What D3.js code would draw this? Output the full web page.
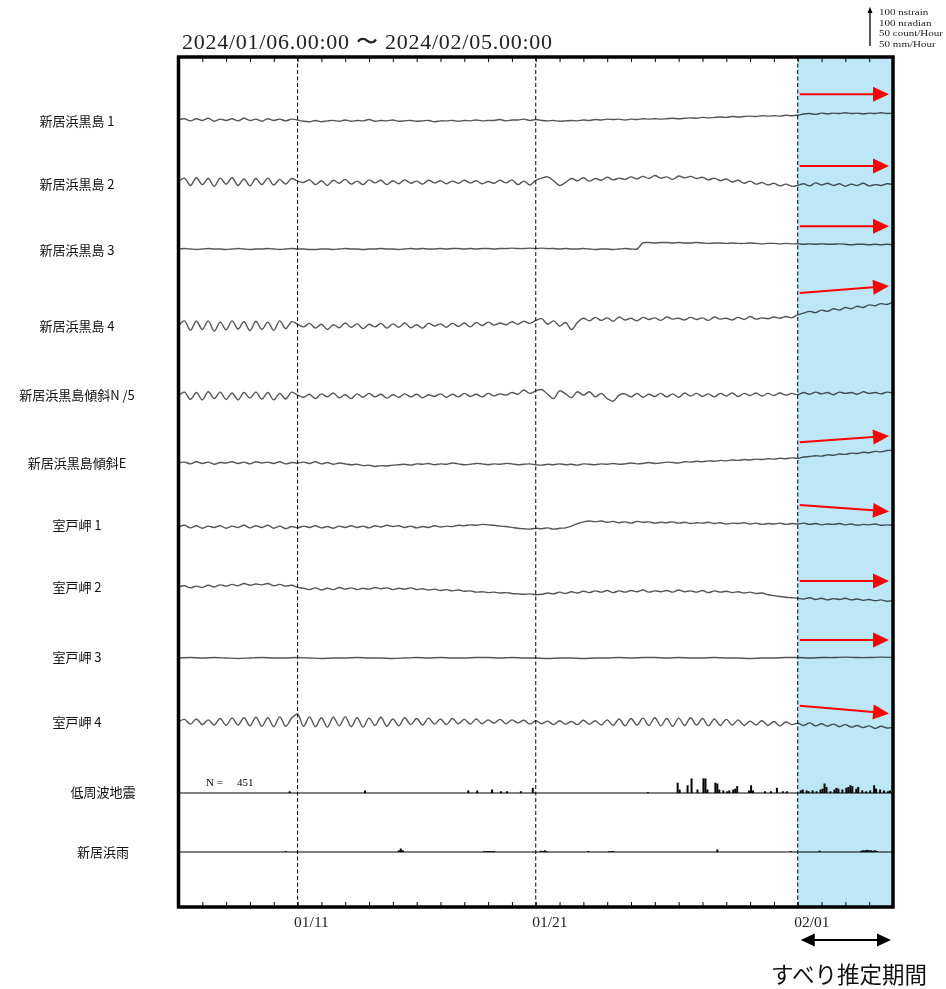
<!DOCTYPE html>
<html>
<head>
<meta charset="utf-8">
<script src="https://cdn.jsdelivr.net/npm/d3@7"></script>
<style>
  html, body { margin: 0; padding: 0; background: #fff; }
  svg { display: block; }
</style>
</head>
<body>
<svg id="chart" width="946" height="989"></svg>
<script>
// ---------------- DATA ----------------
const periodStart = new Date(2024, 0, 6);
const periodEnd = new Date(2024, 1, 5);
const slipStart = new Date(2024, 1, 1);
const markerDates = [new Date(2024, 0, 11), new Date(2024, 0, 21), new Date(2024, 1, 1)];
const tickLabels = ["01/11", "01/21", "02/01"];
const titleText = "2024/01/06.00:00 \u301C 2024/02/05.00:00";
const legendLines = ["100 nstrain", "100 nradian", "50 count/Hour", "50 mm/Hour"];

const traceNames = ["新居浜黒島 1", "新居浜黒島 2", "新居浜黒島 3", "新居浜黒島 4",
  "新居浜黒島傾斜N /5", "新居浜黒島傾斜E", "室戸岬 1", "室戸岬 2", "室戸岬 3", "室戸岬 4"];
const histNames = ["低周波地震", "新居浜雨"];

// trace values (nstrain / nradian, relative), 6-hour steps (室戸岬3: 12-hour steps)
const kuroshima1 = [0,3,-2,3,-1,4,-3,2,-1,3,-2,4,-1,2,-3,3,-1,2,-2,2,0,
  -3,-4,-1,-4,-2,-1,-3,0,-3,-1,-2,1,-3,-1,-2,0,-3,-2,-1,-3,-2,-1,-4,-2,-2,-1,-3,-1,-2,0,-2,-1,-1,1,-2,0,0,2,-1,1,
  -1,-2,-1,-3,-2,-1,-2,0,-1,1,0,2,1,2,0,2,1,3,2,3,2,3,4,3,4,5,4,6,5,6,7,6,8,7,8,9,8,10,9,10,9,11,10,11,
  14,15,13,16,14,16,15,17,15,16,14,16,15,17,15,16];
const kuroshima2 = [0,9,-8,10,-6,8,-10,9,-5,10,-8,7,-9,8,-6,9,-7,6,-5,8,2,
  -1,5,-6,3,-8,4,-3,6,-5,2,-6,5,-2,4,-6,3,-4,5,-3,2,-5,4,-2,3,-4,2,-3,4,-2,3,-4,1,-3,4,-2,5,-6,2,-7,4,
  9,12,3,-8,-1,8,3,10,2,8,4,11,5,9,6,12,7,
  13,8,15,9,12,6,14,10,13,8,11,5,9,3,7,0,4,-3,2,-5,-1,-7,-3,-9,-5,-10,-8,
  -4,-9,-2,-7,-3,-8,-4,-10,-5,-8,-3,-9,-6,-8,-4,-6];
const kuroshima3 = [0,1,0,-1,0,1,0,0,-1,0,1,0,-1,0,0,1,0,-1,0,1,0,0,-1,-1,0,0,-1,0,1,0,0,-1,0,0,1,0,0,-1,0,1,
  0,1,0,0,1,0,1,1,0,1,0,1,1,0,1,1,2,1,1,2,1,2,1,1,0,1,0,0,1,0,-1,0,0,-1,0,1,0,0,
  14,15,14,15,15,14,15,14,14,15,14,13,14,14,13,14,13,13,14,13,12,13,13,12,13,12,12,11,12,11,12,11,11,12,11,10,11,11,10,11,10,11,10];
const kuroshima4 = [0,12,-10,11,-8,12,-12,9,-9,12,-7,10,-11,11,-8,9,-10,12,-6,10,4,
  -2,6,-5,4,-8,3,-4,7,-3,5,-6,4,-2,6,-5,5,-3,7,-4,3,-5,6,0,5,-3,6,-1,7,-2,8,1,9,2,7,3,10,4,11,6,13,
  17,4,12,0,8,-8,8,
  18,12,20,13,19,11,21,14,18,12,20,15,19,13,21,16,18,14,20,15,19,13,21,16,18,14,20,15,22,16,19,17,21,18,22,19,26,
  30,34,31,37,34,40,37,43,40,46,43,49,47,52,50,56];
const tiltN = [0,9,-8,8,-9,10,-6,9,-8,7,-9,8,-5,9,-7,8,-9,6,-7,9,2,
  -3,4,-6,5,-2,7,-4,3,-6,5,-3,6,-2,4,-5,3,-3,5,-2,4,-4,3,-1,5,-3,4,-2,6,-1,4,-2,6,0,5,2,8,4,14,6,12,
  15,4,-6,12,5,-4,10,2,10,-2,6,-6,-12,2,
  5,-2,6,-3,4,-1,6,-2,5,-3,7,0,6,-1,5,-2,6,0,7,-1,6,1,7,0,6,1,7,2,6,3,
  8,4,9,5,8,3,9,6,8,4,10,6,8,5,9,6];
const tiltE = [0,2,-2,3,-1,2,-3,1,0,3,-1,2,-2,3,0,2,-1,3,-2,1,0,
  2,-1,3,-2,1,-3,0,-2,-4,-3,-6,-5,-8,-6,-7,-5,-4,-3,-5,-2,-3,-1,-4,-2,-3,0,-2,-4,-3,-1,-2,-4,-2,-3,-1,-2,-4,-3,-2,-4,
  -5,-3,-4,-2,-4,-3,-5,-2,-3,-4,-2,-3,-1,-3,-2,0,-2,-1,1,-1,0,2,1,0,3,2,4,3,5,4,6,5,7,6,8,7,9,8,10,9,11,10,12,11,
  14,15,17,16,19,18,21,20,23,22,25,24,27,26,29,30];
const muroto1 = [0,4,-2,3,-3,2,-1,3,-3,2,-1,4,-2,3,-1,4,-3,2,-4,1,-2,
  2,-1,3,-2,1,-3,2,-1,3,-1,2,-2,3,0,4,1,3,-1,2,-2,1,-1,3,0,2,1,4,3,5,4,6,5,4,2,1,-1,-3,-4,-5,-3,
  -4,-2,-5,-3,-2,2,8,12,14,
  12,14,11,13,10,12,9,13,11,12,9,11,10,12,9,11,8,10,9,11,8,10,7,9,8,10,7,9,6,8,7,9,6,8,7,
  9,6,8,5,7,6,8,5,7,4,6,5,7,4,5,4];
const muroto2 = [0,3,-2,2,-1,4,0,5,2,6,3,8,4,7,5,8,3,6,2,4,-1,
  -3,-6,-2,-7,-3,-6,-1,-5,-2,-6,-3,-5,-1,-4,-2,-6,-3,-5,-2,-6,-4,-7,-5,-8,-6,-9,-7,-10,-9,-12,-11,-13,-12,-14,-13,-15,-16,-17,-16,-18,
  -17,-14,-16,-12,-15,-11,-14,-10,-13,-9,-12,-8,-13,-9,-12,-8,-11,-7,-12,-9,-11,-8,-12,-7,-11,-9,-12,-8,-13,-9,-12,-10,-13,-11,-14,-12,-15,-14,
  -18,-20,-22,-24,-25,-26,
  -28,-25,-29,-26,-30,-27,-29,-26,-30,-28,-31,-29,-32,-30,-33,-31];
const muroto3 = [0,1,0,1,0,-1,0,1,0,0,1,0,-1,0,0,1,0,0,-1,0,1,0,1,0,0,1,1,0,1,0,0,-1,0,0,-1,0,0,1,0,1,1,0,1,0,0,1,0,0,-1,0,0,1,1,0,1,1,2,1,1,2,1];
const muroto4 = [0,6,-5,7,-6,5,-7,8,-8,9,-7,10,-9,11,-10,10,-11,12,-10,9,18,
  -10,12,-11,10,-12,11,-9,12,-11,10,-12,9,-8,11,-10,7,-9,10,-6,8,-7,9,-5,7,-6,8,-4,6,-5,7,-4,5,-3,6,-4,5,-2,4,-5,3,
  -4,2,-6,3,-5,1,-6,4,-5,3,-7,5,
  -8,7,-9,8,-7,9,-8,10,-9,8,-10,9,-8,10,-7,8,-9,7,-8,6,-7,5,-8,
  2,-7,3,-8,1,-9,0,-6,-3,
  -8,-2,-9,-4,-10,-5,-11,-6,-12,-8,-13,-9,-15,-10,-14,-12];
const traceSeries = [kuroshima1, kuroshima2, kuroshima3, kuroshima4, tiltN, tiltE, muroto1, muroto2, muroto3, muroto4];

// slip-direction arrows: [trace index, start value, end value]
const slipArrows = [[0, 60, 60], [1, 37, 37], [2, 53, 53], [3, 77, 93], [5, 48, 63],
  [6, 51, 36], [7, 14, 14], [8, 42, 42], [9, 38, 20]];

// low-frequency earthquakes: hours from start (2-hour bins), counts per hour
const eqTotal = 451;
const eqHour = [111,187,291,300,315,324,330,344,356,472,502,504,512,516,522,528,530,532,540,542,544,
  548,552,554,558,560,562,574,576,578,590,596,602,608,612,
  626,628,632,634,638,642,646,648,650,652,656,660,662,664,668,672,674,676,678,682,684,688,692,696,700,702,706,710,714,716];
const eqCount = [2,3,3,3,4,2,2,2,6,1,12,4,9,17,4,17,17,4,12,11,4,
  3,2,3,4,5,8,3,9,3,2,2,6,2,2,
  3,4,3,2,3,2,4,5,11,7,2,4,6,5,4,6,7,9,8,5,7,3,2,3,9,5,4,3,2,3];
// rainfall (Niihama): hours from start, mm per hour
const rainHour = [107,221,223,225,307,309,311,313,315,317,364,366,368,370,412,433,435,437,542,616,645,
  687,689,691,693,695,697,699,701,703];
const rainMM = [1,2,4,2,1,1,1,1,1,1,1.5,1,2,1,1,1,1,1,3,1,1.5,
  1.5,2,2,2.5,2,2,1.5,2,1];

// ---------------- LAYOUT ----------------
const plot = { left: 178.5, right: 893, top: 57, bottom: 907 };
const traceBaseY = [120, 182, 249, 326, 396, 463, 527, 587, 658, 722];
const traceLabelY = [121, 184, 250, 326, 395, 463, 525, 587, 657, 722];
const histBaseY = [793, 852];
const histLabelY = [792, 852];
const pxPer100 = 43;

// ---------------- DRAW ----------------
const svg = d3.select("#chart");
const x = d3.scaleTime().domain([periodStart, periodEnd]).range([plot.left, plot.right]);
const span = periodEnd - periodStart;

const gMain = svg.append("g");

// traces
const line = d3.line().curve(d3.curveCatmullRom.alpha(0.5));
traceSeries.forEach((s, r) => {
  const y = d3.scaleLinear().domain([0, 100]).range([traceBaseY[r], traceBaseY[r] - pxPer100]);
  const pts = s.map((v, i) => [x(new Date(+periodStart + i * span / (s.length - 1))), y(v)]);
  gMain.append("path").attr("d", line(pts))
    .attr("fill", "none").attr("stroke", "#555").attr("stroke-width", 1.4)
    .attr("stroke-linejoin", "round");
});

// histograms
const hourMs = 3600e3;
function drawHist(hours, vals, baseY) {
  const y = d3.scaleLinear().domain([0, 50]).range([baseY, baseY - pxPer100]);
  gMain.append("line").attr("x1", plot.left).attr("x2", plot.right)
    .attr("y1", baseY).attr("y2", baseY).attr("stroke", "#000").attr("stroke-width", 1.2);
  gMain.selectAll(null).data(hours.map((h, i) => [h, vals[i]])).enter().append("rect")
    .attr("x", d => x(new Date(+periodStart + d[0] * hourMs)))
    .attr("width", d => x(new Date(+periodStart + (d[0] + 2) * hourMs)) - x(new Date(+periodStart + d[0] * hourMs)))
    .attr("y", d => y(d[1]))
    .attr("height", d => baseY - y(d[1]))
    .attr("fill", "#000");
}
drawHist(eqHour, eqCount, histBaseY[0]);
drawHist(rainHour, rainMM, histBaseY[1]);

// dashed markers
markerDates.forEach(d => {
  gMain.append("line").attr("x1", x(d)).attr("x2", x(d))
    .attr("y1", plot.top).attr("y2", plot.bottom)
    .attr("stroke", "#000").attr("stroke-width", 1).attr("stroke-dasharray", "4,2.5");
});

// highlight (slip estimation period)
svg.append("rect").attr("x", x(slipStart)).attr("y", plot.top)
  .attr("width", plot.right - x(slipStart)).attr("height", plot.bottom - plot.top)
  .attr("fill", "#bde6f7").style("mix-blend-mode", "multiply");

// ticks
const tickAxisB = d3.axisBottom(x).ticks(d3.timeDay.every(1)).tickSize(-5).tickFormat("");
const gB = svg.append("g").attr("transform", `translate(0,${plot.bottom})`).call(tickAxisB);
gB.select(".domain").remove();
gB.selectAll("line").attr("stroke", "#000");
const tickAxisT = d3.axisTop(x).ticks(d3.timeDay.every(1)).tickSize(-5).tickFormat("");
const gT = svg.append("g").attr("transform", `translate(0,${plot.top})`).call(tickAxisT);
gT.select(".domain").remove();
gT.selectAll("line").attr("stroke", "#000");

// tick labels
const labAxis = d3.axisBottom(x).tickValues(markerDates).tickSize(0)
  .tickFormat((d, i) => tickLabels[i]);
const gL = svg.append("g").attr("transform", `translate(0,${plot.bottom})`).call(labAxis);
gL.select(".domain").remove();
gL.selectAll("text").attr("text-anchor", "start").attr("x", -4).attr("y", 9).attr("dy", "0.71em")
  .attr("font-family", "'Liberation Serif', 'Times New Roman', serif").attr("font-size", 15.5).attr("fill", "#222");

// frame
svg.append("rect").attr("x", plot.left).attr("y", plot.top)
  .attr("width", plot.right - plot.left).attr("height", plot.bottom - plot.top)
  .attr("fill", "none").attr("stroke", "#000").attr("stroke-width", 3.5);

// slip arrows
function arrow(g, x1, y1, x2, y2, color, head, halfW, sw) {
  const dx = x2 - x1, dy = y2 - y1, len = Math.hypot(dx, dy);
  const ux = dx / len, uy = dy / len;
  const bx = x2 - ux * head, by = y2 - uy * head;
  g.append("line").attr("x1", x1).attr("y1", y1).attr("x2", bx).attr("y2", by)
    .attr("stroke", color).attr("stroke-width", sw);
  g.append("path").attr("d", `M${x2},${y2}L${bx - uy * halfW},${by + ux * halfW}L${bx + uy * halfW},${by - ux * halfW}Z`)
    .attr("fill", color);
}
const gArr = svg.append("g");
const arrowEnd = new Date(+periodEnd - 4 * 3600e3);
slipArrows.forEach(([r, v0, v1]) => {
  const y = d3.scaleLinear().domain([0, 100]).range([traceBaseY[r], traceBaseY[r] - pxPer100]);
  arrow(gArr, x(slipStart) + 2, y(v0), x(arrowEnd), y(v1), "#ff0000", 16, 7.5, 2);
});

// title
svg.append("text").attr("x", 182).attr("y", 49).text(titleText)
  .attr("font-family", "'Liberation Serif', 'Times New Roman', serif").attr("font-size", 22)
  .attr("textLength", 370).attr("lengthAdjust", "spacing").attr("fill", "#222");

// labels
const labelFont = "'Noto Sans CJK JP', 'Noto Sans', sans-serif";
traceNames.forEach((n, i) => {
  svg.append("text").attr("x", 77).attr("y", traceLabelY[i]).attr("dy", "0.35em")
    .attr("text-anchor", "middle").attr("font-family", labelFont).attr("font-size", 13)
    .attr("fill", "#111").text(n);
});
histNames.forEach((n, i) => {
  svg.append("text").attr("x", 103).attr("y", histLabelY[i]).attr("dy", "0.35em")
    .attr("text-anchor", "middle").attr("font-family", labelFont).attr("font-size", 13)
    .attr("fill", "#111").text(n);
});

// N = count
const serif = "'Liberation Serif', 'Times New Roman', serif";
svg.append("text").attr("x", 206).attr("y", 786).attr("font-family", serif).attr("font-size", 11).text("N =");
svg.append("text").attr("x", 237).attr("y", 786).attr("font-family", serif).attr("font-size", 11).text(eqTotal);

// scale legend
const lg = svg.append("g");
const legScale = d3.scaleLinear().domain([0, 100]).range([46, 46 - pxPer100 + 4]);
lg.append("line").attr("x1", 870).attr("x2", 870).attr("y1", legScale(0)).attr("y2", legScale(100) + 4)
  .attr("stroke", "#000").attr("stroke-width", 1.3);
lg.append("path").attr("d", `M870,${legScale(100)}L867.5,${legScale(100) + 6}L872.5,${legScale(100) + 6}Z`).attr("fill", "#000");
const lgText = lg.append("g").attr("transform", "translate(879,0) scale(1.2,1)");
legendLines.forEach((t, i) => {
  lgText.append("text").attr("x", 0).attr("y", 15 + i * 10.6).attr("font-family", serif)
    .attr("font-size", 9.2).attr("fill", "#222").text(t);
});

// period double arrow & caption
const ga = svg.append("g");
const ay = 940;
const ax1 = x(slipStart) + 3, ax2 = x(periodEnd) - 2;
ga.append("line").attr("x1", ax1 + 12).attr("x2", ax2 - 12).attr("y1", ay).attr("y2", ay)
  .attr("stroke", "#000").attr("stroke-width", 2);
ga.append("path").attr("d", `M${ax1},${ay}L${ax1 + 14},${ay - 6.5}L${ax1 + 14},${ay + 6.5}Z`).attr("fill", "#000");
ga.append("path").attr("d", `M${ax2},${ay}L${ax2 - 14},${ay - 6.5}L${ax2 - 14},${ay + 6.5}Z`).attr("fill", "#000");
svg.append("text").attr("x", 849).attr("y", 983).attr("text-anchor", "middle")
  .attr("font-family", labelFont).attr("font-size", 22.5).attr("fill", "#111").text("すべり推定期間");
</script>
</body>
</html>
